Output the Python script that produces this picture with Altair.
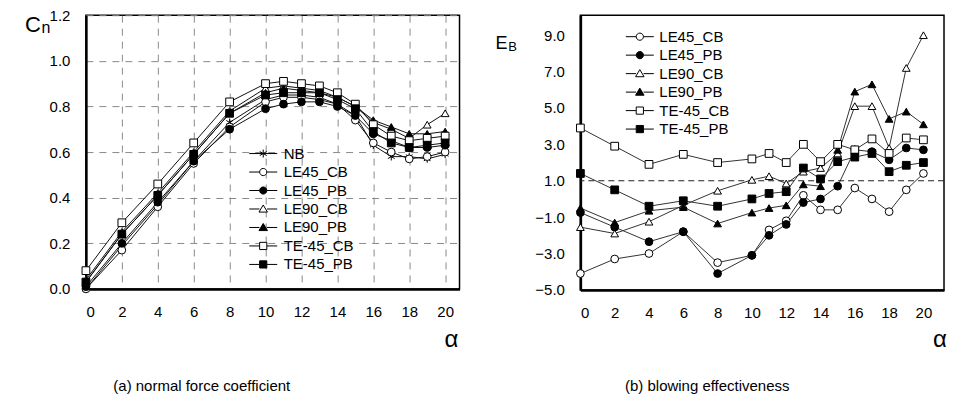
import altair as alt
import pandas as pd

# ---------------- data ----------------
alpha = [0, 2, 4, 6, 8, 10, 11, 12, 13, 14, 15, 16, 17, 18, 19, 20]

series_left = ["NB", "LE45_CB", "LE45_PB", "LE90_CB", "LE90_PB", "TE-45_CB", "TE-45_PB"]
series_right = ["LE45_CB", "LE45_PB", "LE90_CB", "LE90_PB", "TE-45_CB", "TE-45_PB"]

# (a) normal force coefficient Cn
cn_NB      = [0.00, 0.19, 0.37, 0.56, 0.73, 0.83, 0.85, 0.85, 0.84, 0.81, 0.76, 0.63, 0.58, 0.58, 0.57, 0.59]
cn_LE45_CB = [0.00, 0.17, 0.36, 0.55, 0.71, 0.82, 0.84, 0.84, 0.83, 0.81, 0.74, 0.64, 0.60, 0.57, 0.58, 0.60]
cn_LE45_PB = [0.01, 0.20, 0.38, 0.56, 0.70, 0.79, 0.81, 0.82, 0.82, 0.80, 0.76, 0.68, 0.65, 0.62, 0.62, 0.63]
cn_LE90_CB = [0.04, 0.25, 0.42, 0.60, 0.78, 0.88, 0.89, 0.88, 0.87, 0.84, 0.80, 0.73, 0.70, 0.66, 0.72, 0.77]
cn_LE90_PB = [0.03, 0.24, 0.41, 0.59, 0.77, 0.86, 0.88, 0.87, 0.86, 0.84, 0.80, 0.74, 0.71, 0.68, 0.68, 0.69]
cn_TE45_CB = [0.08, 0.29, 0.46, 0.64, 0.82, 0.90, 0.91, 0.90, 0.89, 0.86, 0.81, 0.72, 0.67, 0.65, 0.66, 0.67]
cn_TE45_PB = [0.03, 0.24, 0.41, 0.59, 0.77, 0.85, 0.86, 0.86, 0.86, 0.83, 0.79, 0.69, 0.64, 0.62, 0.63, 0.64]

# (b) blowing effectiveness EB
eb_LE45_CB = [-4.1, -3.3, -3.0, -1.8, -3.5, -3.1, -1.7, -1.2, 0.2, -0.6, -0.6, 0.6, 0.0, -0.7, 0.5, 1.4]
eb_LE45_PB = [-0.75, -1.55, -2.35, -1.8, -4.1, -3.1, -2.0, -1.4, -0.2, 0.0, 0.7, 2.7, 2.6, 2.15, 2.8, 2.7]
eb_LE90_CB = [-1.55, -1.9, -1.25, -0.35, 0.45, 1.05, 1.25, 0.85, 1.5, 1.7, 2.5, 5.1, 5.1, 2.8, 7.2, 9.0]
eb_LE90_PB = [-0.5, -1.3, -0.65, -0.45, -1.35, -0.75, -0.5, -0.35, 0.8, 0.7, 2.7, 5.9, 6.3, 4.4, 4.8, 4.1]
eb_TE45_CB = [3.9, 2.9, 1.9, 2.45, 2.0, 2.2, 2.5, 2.0, 3.0, 2.05, 3.0, 2.7, 3.3, 2.5, 3.35, 3.25]
eb_TE45_PB = [1.4, 0.5, -0.4, -0.1, -0.4, 0.0, 0.3, 0.4, 1.7, 1.1, 2.05, 2.3, 2.5, 1.5, 1.85, 2.0]

x_ticks = [0, 2, 4, 6, 8, 10, 12, 14, 16, 18, 20]
cn_ticks = [0.0, 0.2, 0.4, 0.6, 0.8, 1.0, 1.2]
eb_ticks = [-5.0, -3.0, -1.0, 1.0, 3.0, 5.0, 7.0, 9.0]
eb_ref = [1.0]

# ---------------- styling ----------------
FONT = "Liberation Sans"
ASTER = "M0,-1V1M-0.87,-0.5L0.87,0.5M-0.87,0.5L0.87,-0.5"
plot_shapes = {
    "NB": ASTER, "LE45_CB": "circle", "LE45_PB": "circle",
    "LE90_CB": "triangle-up", "LE90_PB": "triangle-up",
    "TE-45_CB": "square", "TE-45_PB": "square",
}
STUB = "M-2.8,0H-0.75M0.75,0H2.8"
CIRC = "M0.72,0A0.72,0.72 0 1,1 -0.72,0A0.72,0.72 0 1,1 0.72,0Z"
TRI = "M0,-0.8L0.85,0.62L-0.85,0.62Z"
SQR = "M-0.72,-0.72H0.72V0.72H-0.72Z"
leg_shapes = {
    "NB": "M-2.8,0H2.8M0,-0.8V0.8M-0.7,-0.4L0.7,0.4M-0.7,0.4L0.7,-0.4",
    "LE45_CB": STUB + CIRC, "LE45_PB": STUB + CIRC,
    "LE90_CB": STUB + TRI, "LE90_PB": STUB + TRI,
    "TE-45_CB": STUB + SQR, "TE-45_PB": STUB + SQR,
}
fills = {"NB": "black", "LE45_CB": "white", "LE45_PB": "black", "LE90_CB": "white",
         "LE90_PB": "black", "TE-45_CB": "white", "TE-45_PB": "black"}


def long_df(names, arrays):
    rows = []
    for n, vals in zip(names, arrays):
        for a, v in zip(alpha, vals):
            rows.append({"alpha": a, "value": v, "series": n})
    return pd.DataFrame(rows)


def text_layer(txt, x, y, size, **kw):
    return alt.Chart(pd.DataFrame({"t": [txt]})).mark_text(
        font=FONT, fontSize=size, color="black", **kw
    ).encode(x=alt.value(x), y=alt.value(y), text="t:N")


def make_legend(lx, ly, loff):
    return alt.Legend(
        orient="none", legendX=lx, legendY=ly, title=None,
        labelFont=FONT, labelFontSize=15, labelColor="black",
        symbolSize=100, symbolStrokeWidth=1, symbolStrokeColor="black", symbolOpacity=1,
        labelOffset=loff, rowPadding=2.5, padding=0,
    )


def panel(df, names, x_dom, y_dom, w, h, y_vals, grid, leg, line_color, ref_vals, over):
    x_axis = alt.Axis(values=x_ticks, title=None, grid=grid, format="d", labelOverlap=False)
    y_axis = alt.Axis(values=y_vals, title=None, grid=grid, format=".1f", labelOverlap=False)
    xs = alt.Scale(domain=x_dom, nice=False, zero=False)
    ys = alt.Scale(domain=y_dom, nice=False, zero=False)
    base = alt.Chart(df).encode(x=alt.X("alpha:Q", scale=xs, axis=x_axis),
                                y=alt.Y("value:Q", scale=ys, axis=y_axis))
    lines = base.mark_line(color=line_color, strokeWidth=1).encode(detail="series:N")
    shp = [plot_shapes[n] for n in names]
    fl = [fills[n] for n in names]
    pts = base.mark_point(stroke="black", strokeWidth=1, opacity=1, size=60).encode(
        shape=alt.Shape("series:N", scale=alt.Scale(domain=names, range=shp), legend=None),
        fill=alt.Fill("series:N", scale=alt.Scale(domain=names, range=fl), legend=None),
    )
    lg = base.mark_point(strokeWidth=1, opacity=1).encode(
        shape=alt.Shape("series:N", scale=alt.Scale(domain=names, range=[leg_shapes[n] for n in names]),
                        legend=make_legend(*leg)),
        fill=alt.Fill("series:N", scale=alt.Scale(domain=names, range=fl),
                      legend=make_legend(*leg)),
        stroke=alt.Stroke("series:N", scale=alt.Scale(domain=names, range=["black"] * len(names)),
                          legend=make_legend(*leg)),
    ).transform_filter("false")
    under = []
    if ref_vals:
        under.append(
            alt.Chart(pd.DataFrame({"value": ref_vals})).mark_rule(
                color="#222", strokeWidth=1.2, strokeDash=[6, 4]
            ).encode(y=alt.Y("value:Q", scale=ys, axis=y_axis))
        )
    layers = [lines] + under + [pts, lg] + over
    return alt.layer(*layers).resolve_scale(
        shape="independent", fill="independent", stroke="independent"
    ).properties(width=w, height=h)


df_left = long_df(series_left, [cn_NB, cn_LE45_CB, cn_LE45_PB, cn_LE90_CB, cn_LE90_PB, cn_TE45_CB, cn_TE45_PB])
df_right = long_df(series_right, [eb_LE45_CB, eb_LE45_PB, eb_LE90_CB, eb_LE90_PB, eb_TE45_CB, eb_TE45_PB])

left_ann = [
    text_layer("C", -53, 17, 22, baseline="alphabetic"),
    text_layer("n", -40, 18, 16, baseline="alphabetic"),
    text_layer("α", 366, 325, 24),
    text_layer("(a) normal force coefficient", 116, 371, 15),
]
right_ann = [
    text_layer("E", -79, 34, 18, baseline="alphabetic"),
    text_layer("B", -68, 36, 13, baseline="alphabetic"),
    text_layer("α", 360, 325, 24),
    text_layer("(b) blowing effectiveness", 127, 371, 15),
]

left = panel(df_left, series_left, [0, 20.8], [0, 1.2], 374, 274, cn_ticks, True,
             (170, 131, 13), "#111", [], left_ann)
right = panel(df_right, series_right, [0, 21.2], [-5, 10.1], 364, 275, eb_ticks, False,
              (52, 14, 12), "#333", eb_ref, right_ann)

chart = alt.hconcat(left, right, spacing=34).properties(
    padding={"left": 16, "top": -1, "right": 0, "bottom": 0}
).configure_view(
    stroke="black", strokeWidth=1.5
).configure_axis(
    labelFont=FONT, labelFontSize=15, labelColor="black", ticks=False, labelPadding=16,
    domainColor="black", domainWidth=2.5,
    gridColor="#8a8a8a", gridDash=[7, 6], gridWidth=1,
)

chart.save("out.html", embed_options={"renderer": "svg", "actions": False})
